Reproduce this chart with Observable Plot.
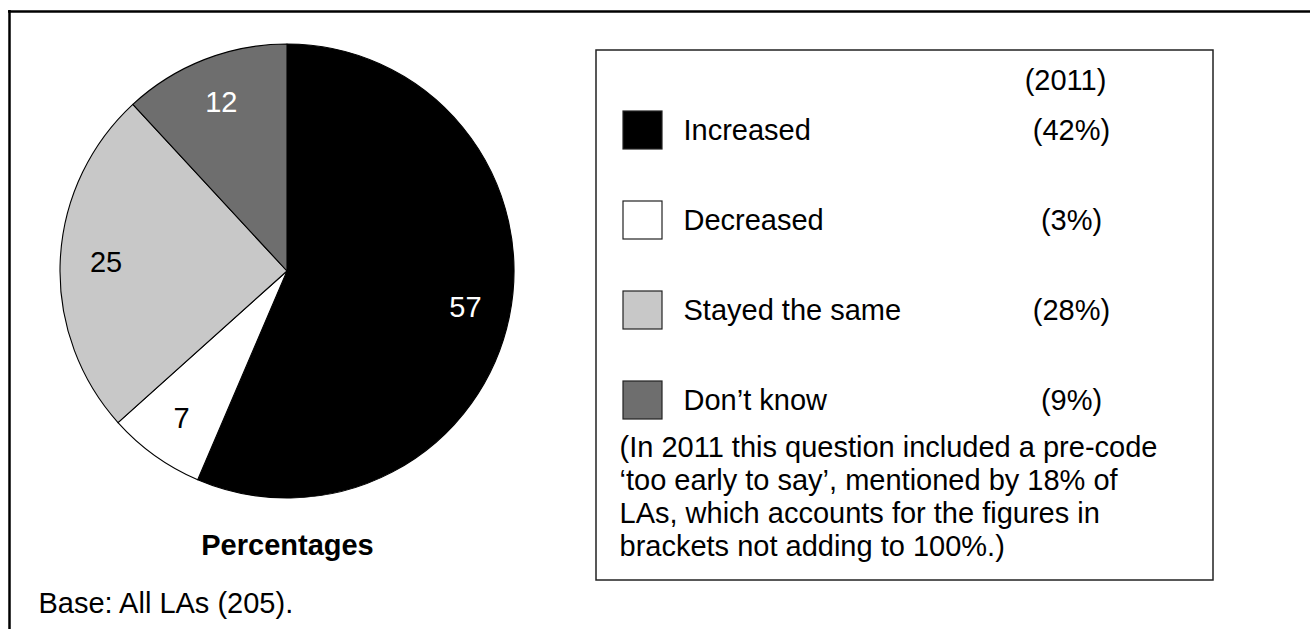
<!DOCTYPE html>
<html><head><meta charset="utf-8">
<script src="https://cdn.jsdelivr.net/npm/d3@7"></script>
<script src="https://cdn.jsdelivr.net/npm/@observablehq/plot@0.6"></script>
<style>html,body{margin:0;padding:0;background:#fff} svg{display:block}</style>
</head><body><div id="chart"></div>
<script>
// ---- data ----
const categories = ["Increased", "Decreased", "Stayed the same", "Don\u2019t know"];
const values = [57, 7, 25, 12];
const values2011 = ["(42%)", "(3%)", "(28%)", "(9%)"];
const sliceColors = ["#000000", "#ffffff", "#c8c8c8", "#6e6e6e"];
const labelColors = ["#ffffff", "#000000", "#000000", "#ffffff"];
const yearLabel = "(2011)";
const unitLabel = "Percentages";
const baseLabel = "Base: All LAs (205).";
const noteLines = [
  "(In 2011 this question included a pre-code",
  "\u2018too early to say\u2019, mentioned by 18% of",
  "LAs, which accounts for the figures in",
  "brackets not adding to 100%.)"
];

// ---- layout ----
const W = 1310, H = 629;
const FONT = "'Liberation Sans', Arial, sans-serif";
const FS = 29;
const pie = {cx: 287, cy: 271, r: 227, labelR: 0.8};
const leg = {x1: 596, y1: 50, x2: 1213, y2: 580, sqX: 623, sqW: 39, sqH: 38, textX: 683, valX: 1071, row0: 130, rowStep: 90, yearY: 80, noteX: 619, noteY0: 447, noteStep: 33};

const rows = categories.map((c, i) => ({name: c, value: values[i], v2011: values2011[i], color: sliceColors[i], labelColor: labelColors[i], i}));
const arcs = d3.pie().sort(null).value(d => d.value).startAngle(0).endAngle(2 * Math.PI)(rows);
const labelPos = arcs.map(a => {
  const mid = (a.startAngle + a.endAngle) / 2;
  const rr = pie.r * pie.labelR;
  return {...a.data, lx: pie.cx + rr * Math.sin(mid), ly: pie.cy - rr * Math.cos(mid)};
});

function pieMark(index, scales) {
  const sx = scales && scales.x ? scales.x : (v => v);
  const sy = scales && scales.y ? scales.y : (v => v);
  const X = sx(pie.cx), Y = sy(pie.cy), R = sx(pie.cx + pie.r) - X;
  const arc = d3.arc().innerRadius(0).outerRadius(R);
  const g = d3.create("svg:g").attr("transform", `translate(${X},${Y})`);
  g.selectAll("path").data(arcs).join("path")
    .attr("d", arc)
    .attr("fill", d => d.data.color)
    .attr("stroke", "#000")
    .attr("stroke-width", 1.1)
    .attr("stroke-linejoin", "round");
  return g.node();
}

const chart = Plot.plot({
  width: W, height: H,
  margin: 0,
  x: {domain: [0, W], range: [0, W], axis: null},
  y: {domain: [0, H], range: [0, H], axis: null},
  style: {fontFamily: FONT, background: "#fff"},
  marks: [
    // outer frame (left and top)
    Plot.ruleX([9], {y1: 10, y2: H, stroke: "#000", strokeWidth: 2.5}),
    Plot.ruleY([11], {x1: 8, x2: W, stroke: "#000", strokeWidth: 2.5}),
    // pie
    pieMark,
    Plot.text(labelPos, {x: "lx", y: "ly", text: d => String(d.value), fill: "labelColor", fontSize: FS, lineAnchor: "middle", textAnchor: "middle"}),
    Plot.text([unitLabel], {x: pie.cx, y: 545, text: d => d, fontSize: FS, fontWeight: "bold", fill: "#000", lineAnchor: "middle"}),
    Plot.text([baseLabel], {x: 38, y: 603, text: d => d, fontSize: FS, fill: "#000", textAnchor: "start", lineAnchor: "middle"}),
    // legend box
    Plot.rect([0], {x1: leg.x1, x2: leg.x2, y1: leg.y1, y2: leg.y2, fill: "none", stroke: "#222", strokeWidth: 1.5}),
    Plot.text([yearLabel], {x: leg.valX - 6, y: leg.yearY, text: d => d, fontSize: FS, fill: "#000", lineAnchor: "middle"}),
    Plot.rect(rows, {
      x1: leg.sqX, x2: leg.sqX + leg.sqW,
      y1: d => leg.row0 + d.i * leg.rowStep - leg.sqH / 2,
      y2: d => leg.row0 + d.i * leg.rowStep + leg.sqH / 2,
      fill: "color", stroke: "#222", strokeWidth: 1.2
    }),
    Plot.text(rows, {x: leg.textX, y: d => leg.row0 + d.i * leg.rowStep, text: "name", fontSize: FS, fill: "#000", textAnchor: "start", lineAnchor: "middle"}),
    Plot.text(rows, {x: leg.valX, y: d => leg.row0 + d.i * leg.rowStep, text: "v2011", fontSize: FS, fill: "#000", lineAnchor: "middle"}),
    Plot.text(noteLines.map((t, i) => ({t, i})), {x: leg.noteX, y: d => leg.noteY0 + d.i * leg.noteStep, text: "t", fontSize: FS, fill: "#000", textAnchor: "start", lineAnchor: "middle"})
  ]
});
document.getElementById("chart").appendChild(chart);
</script>
</body></html>
